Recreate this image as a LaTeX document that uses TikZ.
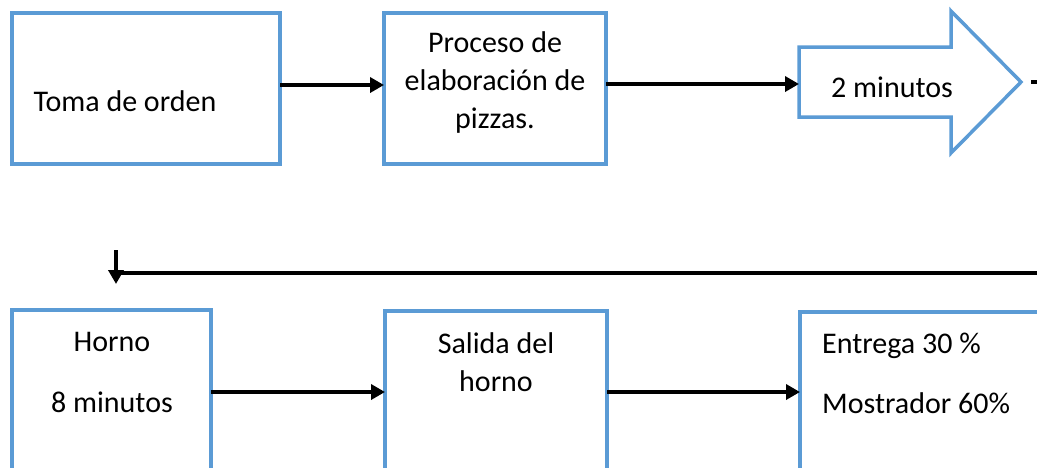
\documentclass[tikz,border=0pt]{standalone}
\usepackage{fontspec}
\setmainfont{Carlito}
\usetikzlibrary{arrows.meta}
\definecolor{boxblue}{HTML}{5B9BD5}
\begin{document}
\begin{tikzpicture}[x=1pt,y=-1pt,
  boxe/.style={draw=boxblue,line width=3.5pt,fill=white},
  lbl/.style={inner sep=0pt,font=\fontsize{30}{38}\selectfont,align=center},
  conn/.style={line width=4pt,-{Triangle[length=14pt,width=15pt]}}]
\useasboundingbox (0,0) rectangle (1037,467);
\begin{scope}
\clip (0,0) rectangle (1037,467);
% top row boxes
\draw[boxe] (12,13) rectangle (280,164);
\coordinate (tomaE) at (280,85);
\draw[boxe] (384,13) rectangle (606,164);
\coordinate (procW) at (384,85);
\coordinate (procE) at (606,84);
% block arrow
\draw[boxe,line join=miter] (799,47) -- (951,47) -- (951,11) -- (1021,82) -- (951,153) -- (951,117) -- (799,117) -- cycle;
\coordinate (arrW) at (799,84);
\coordinate (dashA) at (1031,82);
\coordinate (dashB) at (1040,82);
% bottom row boxes
\draw[boxe] (12,310) rectangle (211,490);
\coordinate (hornoE) at (211,392);
\draw[boxe] (385,311) rectangle (607,490);
\coordinate (salW) at (385,392);
\coordinate (salE) at (607,392);
\draw[boxe] (800,312) rectangle (1060,490);
\coordinate (entW) at (800,392);
% return line
\coordinate (retR) at (1040,273);
\coordinate (retL) at (116,273);
\coordinate (downA) at (116,250);
\coordinate (downB) at (116,284);
\end{scope}
% texts
\node[lbl] (toma) at (125,101) {Toma de orden};
\node[lbl] (proc) at (495,82) {Proceso de\\elaboración de\\pizzas.};
\node[lbl] (dos) at (892,87) {2 minutos};
\node[lbl] (horno) at (112,372) {Horno\\[23pt]8 minutos};
\node[lbl] (salida) at (496,362) {Salida del\\horno};
\node[lbl,anchor=west,align=left] (entrega) at (822,373) {Entrega 30 \%\\[22pt]Mostrador 60\%};
% connectors
\begin{scope}
\clip (0,0) rectangle (1037,467);
\draw[conn] (tomaE) -- (procW);
\draw[conn] (procE) -- (arrW);
\draw[line width=4pt] (dashA) -- (dashB);
\draw[line width=4pt] (retR) -- (retL);
\draw[conn] (downA) -- (downB);
\draw[conn] (hornoE) -- (salW);
\draw[conn] (salE) -- (entW);
\end{scope}
\end{tikzpicture}
\end{document}
